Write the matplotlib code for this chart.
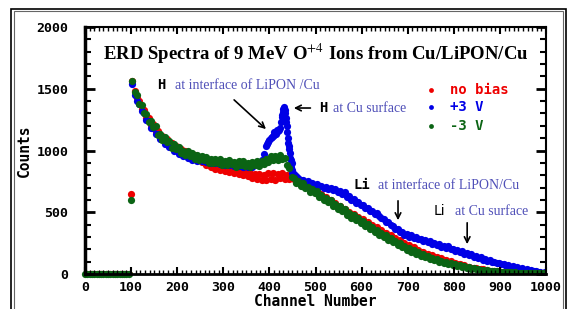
import matplotlib
matplotlib.use("Agg")
import matplotlib.pyplot as plt
import numpy as np
from matplotlib.patches import Rectangle
from matplotlib.ticker import MultipleLocator

plt.rcParams['mathtext.fontset'] = 'stix'

# canales del espectro principal (cada 5 canales)
canales = np.arange(103, 1000, 5)

# sin polarizacion (rojo)
cuentas_sin = [
    1560, 1480, 1425, 1400, 1335, 1325, 1265, 1262, 1205, 1215,
    1150, 1160, 1110, 1120, 1075, 1090, 1040, 1060, 1015, 1035,
    990, 1010, 970, 995, 955, 975, 940, 962, 925, 945,
    905, 918, 880, 900, 865, 885, 850, 872, 840, 860,
    830, 855, 822, 848, 815, 840, 808, 832, 800, 826,
    790, 820, 775, 812, 770, 808, 765, 805, 760, 815,
    770, 820, 765, 810, 775, 815, 770, 800, 772, 785,
    770, 748, 760, 730, 740, 710, 715, 690, 695, 668,
    675, 645, 650, 620, 625, 598, 600, 572, 575, 548,
    550, 525, 530, 500, 505, 478, 482, 455, 460, 432,
    445, 420, 425, 398, 400, 372, 378, 350, 355, 328,
    335, 305, 312, 285, 292, 265, 272, 245, 252, 225,
    232, 208, 215, 190, 198, 175, 180, 160, 165, 148,
    150, 135, 138, 122, 126, 110, 114, 100, 102, 90,
    92, 80, 82, 70, 70, 60, 60, 52, 52, 45,
    44, 38, 38, 32, 32, 27, 27, 23, 23, 20,
    19, 17, 16, 14, 14, 12, 12, 11, 10, 9,
    9, 8, 8, 7, 7, 6, 6, 5, 5, 4,
]

# +3 V (azul)
cuentas_mas = [
    1540, 1450, 1400, 1375, 1320, 1300, 1245, 1235, 1185, 1180,
    1135, 1130, 1090, 1090, 1055, 1058, 1025, 1030, 1000, 1005,
    975, 985, 955, 965, 940, 950, 925, 938, 915, 925,
    915, 930, 905, 925, 900, 915, 895, 912, 890, 905,
    885, 900, 880, 895, 875, 892, 872, 890, 870, 888,
    868, 885, 870, 888, 880, 900, 925, 970, 1040, 1070,
    1100, 1115, 1140, 1160, 1185, 1290, 1330, 1200, 1040, 900,
    810, 790, 775, 760, 765, 745, 750, 730, 738, 720,
    728, 710, 715, 700, 705, 690, 695, 680, 688, 668,
    670, 650, 660, 625, 630, 600, 605, 578, 580, 555,
    558, 532, 535, 510, 512, 488, 490, 466, 454, 444,
    422, 418, 394, 391, 366, 361, 339, 341, 314, 326,
    300, 312, 294, 299, 281, 287, 264, 276, 258, 264,
    246, 252, 234, 240, 222, 229, 212, 224, 200, 206,
    188, 194, 176, 188, 164, 170, 152, 158, 140, 146,
    128, 134, 116, 122, 104, 110, 98, 98, 87, 92,
    77, 82, 67, 72, 58, 62, 50, 54, 42, 46,
    34, 38, 27, 30, 21, 24, 15, 18, 11, 13,
]

# -3 V (verde)
cuentas_menos = [
    1565, 1470, 1450, 1380, 1370, 1300, 1292, 1228, 1238, 1187,
    1195, 1127, 1133, 1085, 1112, 1070, 1075, 1023, 1055, 1010,
    1026, 978, 1000, 967, 1000, 958, 977, 933, 960, 924,
    959, 924, 946, 899, 930, 902, 934, 899, 932, 885,
    911, 883, 921, 887, 910, 869, 911, 880, 911, 875,
    900, 868, 906, 881, 915, 878, 912, 890, 932, 908,
    953, 920, 958, 925, 967, 930, 943, 880, 860, 785,
    780, 734, 755, 716, 736, 693, 708, 668, 692, 654,
    670, 625, 640, 598, 619, 582, 598, 553, 568, 526,
    547, 508, 524, 481, 496, 456, 474, 437, 453, 413,
    428, 389, 406, 368, 383, 344, 358, 318, 334, 298,
    314, 277, 291, 256, 270, 236, 250, 217, 230, 198,
    209, 180, 191, 163, 175, 148, 159, 134, 145, 122,
    132, 110, 120, 99, 107, 88, 97, 79, 86, 70,
    78, 63, 69, 55, 61, 48, 54, 43, 48, 37,
    42, 32, 36, 28, 32, 24, 28, 21, 23, 17,
    20, 15, 18, 13, 16, 11, 14, 10, 11, 9,
    10, 8, 9, 7, 8, 6, 7, 5, 6, 4,
]

# puntos extra del pico de H en +3 V
pico_canales = [395, 400, 405, 410, 411, 415, 416, 420, 425, 427, 429, 430,
                431, 432, 434, 436, 437, 439, 440, 441, 442, 444, 445, 446,
                447, 449, 450]
pico_cuentas = [1050, 1085, 1110, 1125, 1150, 1135, 1170, 1170, 1230, 1270,
                1310, 1340, 1320, 1350, 1300, 1260, 1230, 1150, 1100, 1060,
                1010, 980, 940, 920, 870, 840, 820]

# zona sin cuentas y primer canal
canales_cero = np.arange(0, 100, 5)
cuentas_cero = np.zeros(len(canales_cero))
canal_inicio = 100
inicio_sin = 650
inicio_menos = 600

rojo = '#ee0000'
azul = '#0000e6'
verde = '#0b6414'
azul_texto = '#5050b8'

fig = plt.figure(figsize=(5.68, 3.09), dpi=100)
fig.patches.append(Rectangle((11 / 568, -0.1), 555 / 568, 1.1 - 9 / 309,
                             transform=fig.transFigure, fill=False,
                             edgecolor='black', linewidth=1.2))
fig.patches.append(Rectangle((13.5 / 568, -0.1), 549.5 / 568, 1.1 - 11.5 / 309,
                             transform=fig.transFigure, fill=False,
                             edgecolor='#666666', linewidth=0.8))

ax = fig.add_axes([85 / 568, 35 / 309, 461 / 568, 247 / 309])

s = 27
ax.scatter(canales_cero, cuentas_cero, s=s, color=rojo, linewidths=0)
ax.scatter(canales, cuentas_sin, s=s, color=rojo, linewidths=0)
ax.scatter([canal_inicio], [inicio_sin], s=s, color=rojo, linewidths=0)
ax.scatter(canales, cuentas_mas, s=s, color=azul, linewidths=0)
ax.scatter(pico_canales, pico_cuentas, s=s, color=azul, linewidths=0)
ax.scatter(canales, cuentas_menos, s=s, color=verde, linewidths=0)
ax.scatter(canales_cero, cuentas_cero, s=s, color=verde, linewidths=0,
           clip_on=False)
ax.scatter([canal_inicio], [inicio_menos], s=s, color=verde, linewidths=0)

ax.set_xlim(0, 1000)
ax.set_ylim(0, 2000)

ax.xaxis.set_major_locator(MultipleLocator(100))
ax.xaxis.set_minor_locator(MultipleLocator(10))
ax.yaxis.set_major_locator(MultipleLocator(500))
ax.yaxis.set_minor_locator(MultipleLocator(100))

fuente_gotica = {'family': 'DejaVu Sans Mono', 'weight': 'bold'}

ax.tick_params(axis='x', which='major', direction='in', length=5, width=1.5,
               top=True, pad=5)
ax.tick_params(axis='x', which='minor', direction='in', length=3, width=1,
               top=True)
ax.tick_params(axis='y', which='major', direction='in', length=7, width=2,
               right=True, pad=12)
ax.tick_params(axis='y', which='minor', direction='in', length=4, width=1.5,
               right=True)
for lab in ax.get_xticklabels() + ax.get_yticklabels():
    lab.set_fontfamily('DejaVu Sans Mono')
    lab.set_fontweight('bold')
    lab.set_fontsize(9.5)

ax.spines['left'].set_linewidth(2.5)
ax.spines['bottom'].set_linewidth(2)
ax.spines['top'].set_linewidth(1.5)
ax.spines['right'].set_linewidth(1.5)

ax.set_xlabel('Channel Number', fontdict=fuente_gotica, fontsize=10.5,
              labelpad=0)
ax.set_ylabel('Counts', fontdict=fuente_gotica, fontsize=10.5, labelpad=3)

# titulo
ax.text(500, 1785, r'ERD Spectra of 9 MeV O$^{+4}$ Ions from Cu/LiPON/Cu',
        ha='center', va='center', fontsize=13.5, fontweight='bold',
        family='Liberation Serif')

# anotaciones de H
ax.text(156, 1530, 'H', ha='left', va='center', fontsize=10, **fuente_gotica)
ax.text(195, 1530, 'at interface of LiPON /Cu', ha='left', va='center',
        fontsize=10, family='Liberation Serif', color=azul_texto)
ax.annotate('', xy=(397, 1158), xytext=(319, 1425),
            arrowprops=dict(arrowstyle='->', color='black', lw=1.2))
ax.annotate('', xy=(447, 1344), xytext=(495, 1344),
            arrowprops=dict(arrowstyle='->', color='black', lw=1.2))
ax.text(508, 1344, 'H', ha='left', va='center', fontsize=10, **fuente_gotica)
ax.text(538, 1344, 'at Cu surface', ha='left', va='center',
        fontsize=10, family='Liberation Serif', color=azul_texto)

# anotaciones de Li
ax.text(582, 720, 'Li', ha='left', va='center', fontsize=10, **fuente_gotica)
ax.text(636, 720, 'at interface of LiPON/Cu', ha='left', va='center',
        fontsize=10, family='Liberation Serif', color=azul_texto)
ax.annotate('', xy=(679, 413), xytext=(679, 615),
            arrowprops=dict(arrowstyle='->', color='black', lw=1.2))
ax.text(757, 510, 'Li', ha='left', va='center', fontsize=10,
        family='DejaVu Sans')
ax.text(803, 510, 'at Cu surface', ha='left', va='center',
        fontsize=10, family='Liberation Serif', color=azul_texto)
ax.annotate('', xy=(829, 219), xytext=(829, 437),
            arrowprops=dict(arrowstyle='->', color='black', lw=1.2))

# leyenda
leyenda = [('no bias', rojo, 1490), ('+3 V', azul, 1352), ('-3 V', verde, 1198)]
for texto, color, yy in leyenda:
    ax.scatter([750], [yy], s=12, color=color, linewidths=0)
    ax.text(792, yy, texto, ha='left', va='center', fontsize=10,
            color=color, **fuente_gotica)

fig.savefig('out.png', dpi=100)
